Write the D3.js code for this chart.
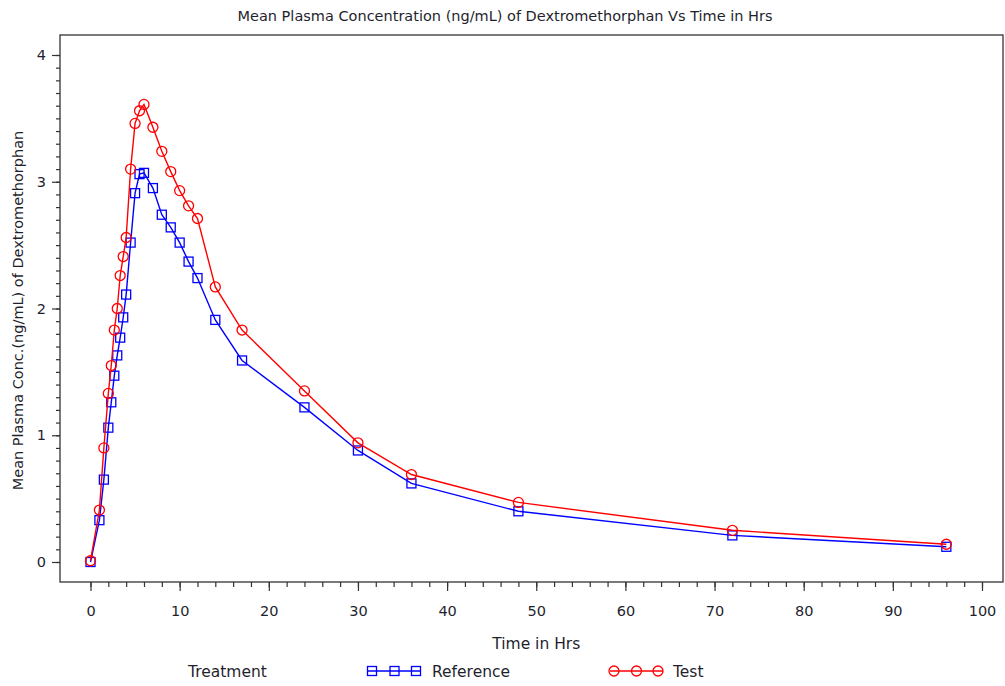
<!DOCTYPE html>
<html>
<head>
<meta charset="utf-8">
<script src="https://cdn.jsdelivr.net/npm/d3@7"></script>
<style>
  html, body { margin: 0; padding: 0; background: #fff; }
  svg { display: block; font-family: "DejaVu Sans", Verdana, sans-serif; }
</style>
</head>
<body>
<div id="chart"></div>
<script>
// Mean plasma concentration of dextromethorphan vs time, two treatments
const times = [0, 1, 1.5, 2, 2.33, 2.67, 3, 3.33, 3.67, 4, 4.5, 5, 5.5, 6,
               7, 8, 9, 10, 11, 12, 14, 17, 24, 30, 36, 48, 72, 96];
const referenceConc = [0, 0.33, 0.65, 1.06, 1.26, 1.47, 1.63, 1.77, 1.93, 2.11, 2.52, 2.91, 3.06, 3.07,
                       2.95, 2.74, 2.64, 2.52, 2.37, 2.24, 1.91, 1.59, 1.22, 0.88, 0.62, 0.40, 0.21, 0.12];
const testConc = [0.01, 0.41, 0.90, 1.33, 1.55, 1.83, 2.00, 2.26, 2.41, 2.56, 3.10, 3.46, 3.56, 3.61,
                  3.43, 3.24, 3.08, 2.93, 2.81, 2.71, 2.17, 1.83, 1.35, 0.94, 0.69, 0.47, 0.25, 0.14];
const xTicks = [0, 10, 20, 30, 40, 50, 60, 70, 80, 90, 100];
const yTicks = [0, 1, 2, 3, 4];

const W = 1005, H = 686;
const frame = { left: 60, top: 35, right: 1003, bottom: 582 };
const textColor = '#1f1f2e';

const svg = d3.select('#chart').append('svg')
    .attr('width', W)
    .attr('height', H);

const x = d3.scaleLinear().domain([0, 100]).range([90.5, 982]);
const y = d3.scaleLinear().domain([0, 4]).range([562, 55]);

// Title
svg.append('text')
    .attr('x', 505)
    .attr('y', 21)
    .attr('text-anchor', 'middle')
    .style('font-size', '14.5px')
    .style('fill', textColor)
    .text('Mean Plasma Concentration (ng/mL) of Dextromethorphan Vs Time in Hrs');

// Frame
svg.append('rect')
    .attr('x', frame.left)
    .attr('y', frame.top)
    .attr('width', frame.right - frame.left)
    .attr('height', frame.bottom - frame.top)
    .attr('fill', 'none')
    .attr('stroke', '#333')
    .attr('stroke-width', 1.3);

// X axis: major every 10, minor every 2
const xAxis = svg.append('g')
    .attr('transform', `translate(0,${frame.bottom})`);
xAxis.call(d3.axisBottom(x).tickValues(d3.range(0, 101, 2)).tickSize(5).tickFormat(''))
    .call(g => g.select('.domain').remove());
xAxis.append('g')
    .call(d3.axisBottom(x).tickValues(xTicks).tickSize(9).tickPadding(15).tickFormat(d3.format('d')))
    .call(g => g.select('.domain').remove())
    .call(g => g.selectAll('text').style('font-size', '14.5px').style('fill', textColor).style('font-family', '"DejaVu Sans", sans-serif'));
xAxis.selectAll('line').attr('stroke', '#333').attr('stroke-width', 1.2);

// Y axis: major every 1, minor every 0.1
const yAxis = svg.append('g')
    .attr('transform', `translate(${frame.left},0)`);
yAxis.call(d3.axisLeft(y).tickValues(d3.range(0, 41).map(d => d / 10)).tickSize(4).tickFormat(''))
    .call(g => g.select('.domain').remove());
yAxis.append('g')
    .call(d3.axisLeft(y).tickValues(yTicks).tickSize(8).tickPadding(6).tickFormat(d3.format('d')))
    .call(g => g.select('.domain').remove())
    .call(g => g.selectAll('text').style('font-size', '14.5px').style('fill', textColor).style('font-family', '"DejaVu Sans", sans-serif'));
yAxis.selectAll('line').attr('stroke', '#333').attr('stroke-width', 1.2);

// Axis titles
svg.append('text')
    .attr('x', x(50))
    .attr('y', 649)
    .attr('text-anchor', 'middle')
    .style('font-size', '15.5px')
    .style('fill', textColor)
    .text('Time in Hrs');

svg.append('text')
    .attr('transform', `translate(23,${(frame.top + frame.bottom) / 2 + 2}) rotate(-90)`)
    .attr('text-anchor', 'middle')
    .style('font-size', '14.5px')
    .style('fill', textColor)
    .text('Mean Plasma Conc.(ng/mL) of Dextromethorphan');

// Series
const series = [
    { name: 'Reference', values: referenceConc, color: '#0000ff', shape: 'square' },
    { name: 'Test', values: testConc, color: '#ff0000', shape: 'circle' }
];

const line = d3.line()
    .x((d, i) => x(times[i]))
    .y(d => y(d));

function drawMarker(g, shape, color, cx, cy) {
    if (shape === 'square') {
        g.append('rect')
            .attr('x', cx - 4.5).attr('y', cy - 4.5)
            .attr('width', 9).attr('height', 9)
            .attr('fill', 'none').attr('stroke', color).attr('stroke-width', 1.3);
    } else {
        g.append('circle')
            .attr('cx', cx).attr('cy', cy).attr('r', 5)
            .attr('fill', 'none').attr('stroke', color).attr('stroke-width', 1.3);
    }
}

series.forEach(s => {
    const g = svg.append('g');
    g.append('path')
        .datum(s.values)
        .attr('d', line)
        .attr('fill', 'none')
        .attr('stroke', s.color)
        .attr('stroke-width', 1.4);
    s.values.forEach((v, i) => drawMarker(g, s.shape, s.color, x(times[i]), y(v)));
});

// Legend
const legendY = 671;
svg.append('text')
    .attr('x', 188).attr('y', legendY + 6)
    .style('font-size', '15.5px').style('fill', textColor)
    .text('Treatment');

const legendItems = [
    { s: series[0], x0: 368, x1: 421, tx: 432 },
    { s: series[1], x0: 610, x1: 663, tx: 673 }
];
legendItems.forEach(item => {
    const g = svg.append('g');
    g.append('line')
        .attr('x1', item.x0).attr('x2', item.x1)
        .attr('y1', legendY).attr('y2', legendY)
        .attr('stroke', item.s.color).attr('stroke-width', 1.4);
    [item.x0 + 4, (item.x0 + item.x1) / 2, item.x1 - 5].forEach(cx =>
        drawMarker(g, item.s.shape, item.s.color, cx, legendY));
    g.append('text')
        .attr('x', item.tx).attr('y', legendY + 6)
        .style('font-size', '15.5px').style('fill', textColor)
        .text(item.s.name);
});
</script>
</body>
</html>
